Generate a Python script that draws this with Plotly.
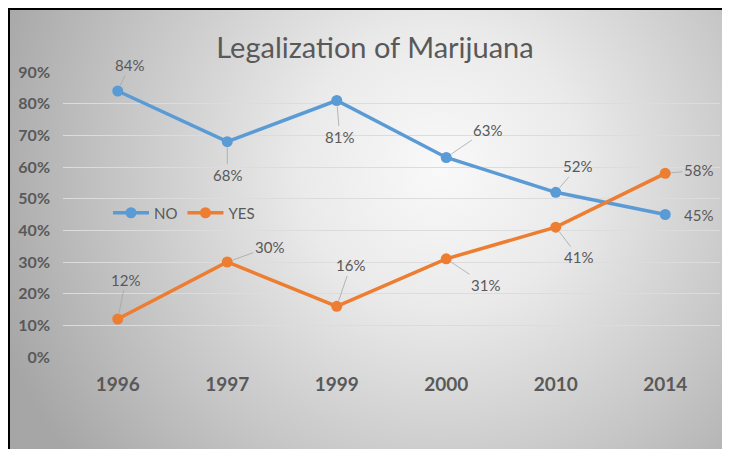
import base64
import plotly.graph_objects as go

# ---- data ----
years = ["1996", "1997", "1999", "2000", "2010", "2014"]
no_values = [84, 68, 81, 63, 52, 45]
yes_values = [12, 30, 16, 31, 41, 58]
y_ticks = [0, 10, 20, 30, 40, 50, 60, 70, 80, 90]

# ---- styling ----
BLUE = "#5B9BD5"
ORANGE = "#ED7D31"
GRAY = "#595959"
FONT = "Lato"
# page body has an 8px margin, so the figure is 722x441 inside the 730x449 window
W, H = 722, 441
ML, MR, MT, MB = 55, 10, 64, 92

# label offsets (pixels) relative to each point: (ax, ay, show_leader)
no_label_style = [(12, -26, True), (0, 33, True), (3, 36, True), (41, -28, True), (22, -26, True), (33, 0, False)]
yes_label_style = [(8, -39, True), (42, -15, True), (14, -41, True), (39, 26, True), (23, 30, True), (33, -3, True)]

# background: radial gray gradient + black frame (top/left)
svg = f'''<svg xmlns="http://www.w3.org/2000/svg" width="{W}" height="{H}" viewBox="0 0 {W} {H}">
<defs><radialGradient id="g" gradientUnits="userSpaceOnUse" cx="432" cy="160" r="470">
<stop offset="0" stop-color="#f9f9f9"/><stop offset="0.3" stop-color="#eaeaea"/>
<stop offset="0.7" stop-color="#c4c4c4"/><stop offset="1" stop-color="#a6a6a6"/></radialGradient></defs>
<rect x="0" y="0" width="{W}" height="{H}" fill="url(#g)"/>
<line x1="0" y1="1" x2="{W}" y2="1" stroke="#000" stroke-width="2"/>
<line x1="1" y1="0" x2="1" y2="{H}" stroke="#000" stroke-width="2"/>
</svg>'''
src = "data:image/svg+xml;base64," + base64.b64encode(svg.encode()).decode()

pw = W - ML - MR
ph = H - MT - MB

fig = go.Figure()
for name, vals, color in [("NO", no_values, BLUE), ("YES", yes_values, ORANGE)]:
    fig.add_trace(go.Scatter(
        x=years, y=vals, name=name, mode="lines+markers",
        line=dict(color=color, width=3.5),
        marker=dict(color=color, size=11),
        hoverinfo="skip",
    ))

annotations = []
for vals, style in [(no_values, no_label_style), (yes_values, yes_label_style)]:
    for i, (v, (ax, ay, lead)) in enumerate(zip(vals, style)):
        # category axis: annotation x given as the category index
        common = dict(x=i, y=v, xref="x", yref="y", text=f"{v}%",
                      font=dict(family=FONT, size=15, color=GRAY))
        if lead:
            annotations.append(dict(
                **common, showarrow=True, arrowhead=0, arrowwidth=0.8,
                arrowcolor="#a6a6a6", ax=ax, ay=ay, standoff=6,
            ))
        else:
            annotations.append(dict(**common, showarrow=False, xshift=ax, yshift=-ay))

fig.update_layout(
    width=W, height=H,
    margin=dict(l=ML, r=MR, t=MT, b=MB),
    paper_bgcolor="rgba(0,0,0,0)",
    plot_bgcolor="rgba(0,0,0,0)",
    images=[dict(
        source=src, xref="paper", yref="paper",
        x=-ML / pw, y=1 + MT / ph, sizex=W / pw, sizey=H / ph,
        xanchor="left", yanchor="top", sizing="stretch", layer="below",
    )],
    title=dict(
        text="Legalization of Marijuana",
        x=(367 - ML) / pw, xref="paper", xanchor="center",
        y=1 - 40 / H, yanchor="middle",
        font=dict(family=FONT, size=29, color=GRAY, weight=400),
    ),
    showlegend=True,
    legend=dict(
        orientation="h", x=(100 - ML) / pw, xanchor="left",
        y=(H - MB - 205) / ph, yanchor="middle",
        bgcolor="rgba(0,0,0,0)",
        font=dict(family=FONT, size=15, color=GRAY),
        itemwidth=36,
    ),
    xaxis=dict(
        type="category", categoryorder="array", categoryarray=years,
        range=[-0.5, len(years) - 0.5], autorange=False,
        showgrid=False, zeroline=False, showline=False,
        ticks="", tickfont=dict(family=FONT, size=19, color=GRAY, weight="bold"),
        ticklabelstandoff=14,
    ),
    yaxis=dict(
        range=[0, 90], autorange=False,
        tickmode="array", tickvals=y_ticks, ticktext=[f"{t}%" for t in y_ticks],
        showgrid=True, gridcolor="#dcdcdc", gridwidth=1,
        zeroline=False, showline=False, ticks="",
        tickfont=dict(family=FONT, size=16, color=GRAY, weight="bold"),
        ticklabelstandoff=12,
    ),
    annotations=annotations,
)

fig.write_html("out.html")
